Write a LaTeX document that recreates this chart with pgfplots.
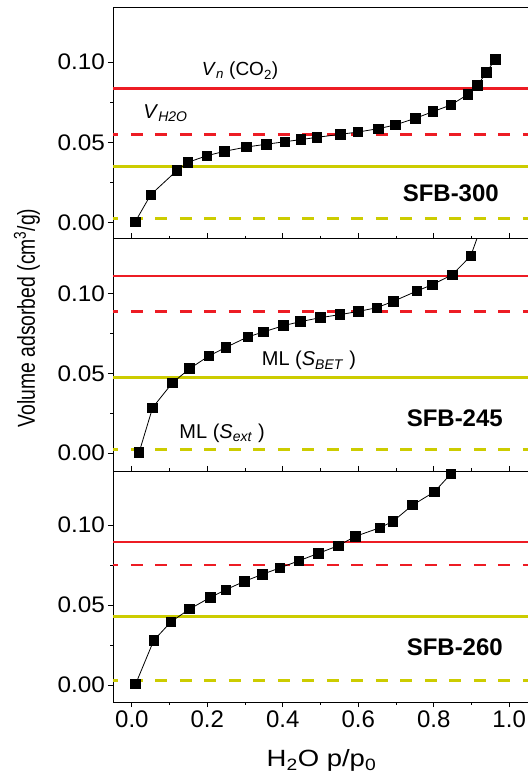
\documentclass[border=0pt]{standalone}
\usepackage{pgfplots}
\pgfplotsset{compat=1.18}
\usepackage{graphicx}
\usepackage{fontspec}
\setmainfont{Liberation Sans}
\definecolor{myred}{RGB}{237,28,36}
\definecolor{myyel}{RGB}{204,204,0}

\pgfplotsset{
 panel/.style={
  scale only axis, width=415.8pt, anchor=south west,
  xmin=-0.05, xmax=1.052,
  xtick={0,0.2,0.4,0.6,0.8,1.0}, minor x tick num=1,
  ytick={0,0.05,0.10}, minor y tick num=1,
  ytick pos=left, tick align=outside,
  major tick length=5pt, minor tick length=2.5pt,
  axis line style={line width=0.9pt},
  every tick/.style={black, line width=0.8pt},
  every minor tick/.style={black, line width=0.8pt},
  y tick label style={/pgf/number format/.cd, fixed, fixed zerofill, precision=2, /tikz/.cd, font=\fontsize{22.5}{26}\selectfont, inner sep=3pt},
  yticklabel={\scalebox{1.08}[1]{\pgfmathprintnumber{\tick}}},
  x tick label style={/pgf/number format/.cd, fixed, fixed zerofill, precision=1, /tikz/.cd, font=\fontsize{24}{28}\selectfont},
  /pgf/number format/assume math mode=true,
  clip=true,
 },
 hl/.style={line width=2.7pt, no marks},
 hld/.style={line width=2.7pt, no marks, dash pattern=on 12pt off 12.5pt, dash phase=6.7pt},
 dat/.style={black, line width=0.8pt, mark=square*, mark size=4.75pt, mark options={solid, fill=black}},
}
\tikzset{
 ann/.style={font=\fontsize{20}{24}\selectfont, inner sep=0pt},
 sfb/.style={font=\fontsize{24}{28}\selectfont\bfseries, inner sep=0pt, anchor=base east},
}

\begin{document}
\begin{tikzpicture}
\useasboundingbox (-113pt,-78pt) rectangle (415pt,702pt);

% Panel 1: SFB-300
\begin{axis}[panel, at={(0pt,463.7pt)}, height=231.3pt,
  ymin=-0.0097, ymax=0.1342, xtick=\empty]
\addplot[hl, myred] coordinates {(-0.05,0.0834) (1.052,0.0834)};
\addplot[hld, myred] coordinates {(-0.05,0.0548) (1.052,0.0548)};
\addplot[hl, myyel] coordinates {(-0.05,0.0349) (1.052,0.0349)};
\addplot[hld, myyel] coordinates {(-0.05,0.0027) (1.052,0.0027)};
\addplot[dat] coordinates {
(0.009,0.0006) (0.050,0.0174) (0.119,0.0324) (0.149,0.0376) (0.199,0.0417)
(0.245,0.0444) (0.304,0.0471) (0.356,0.0488) (0.406,0.0504) (0.448,0.0517)
(0.490,0.0531) (0.553,0.0550) (0.599,0.0564) (0.653,0.0585) (0.698,0.0608)
(0.752,0.0650) (0.798,0.0691) (0.845,0.0732) (0.890,0.0797) (0.916,0.0855)
(0.940,0.0936) (0.963,0.1017)};
\node[ann, font=\fontsize{19}{23}\selectfont, anchor=base west] at (axis cs:0.185,0.0913) {\textit{V}\textsubscript{\textit{n}} (CO\textsubscript{2})};
\node[ann, anchor=base west] at (axis cs:0.030,0.065) {\textit{V}\textsubscript{\textit{H2O}}};
\node[sfb] at (axis cs:0.973,0.0131) {SFB-300};
\end{axis}

% Panel 2: SFB-245
\begin{axis}[panel, at={(0pt,231pt)}, height=232.7pt,
  ymin=-0.0111, ymax=0.1344, xtick pos=right, xticklabels={}]
\addplot[hl, myred] coordinates {(-0.05,0.1108) (1.052,0.1108)};
\addplot[hld, myred] coordinates {(-0.05,0.0887) (1.052,0.0887)};
\addplot[hl, myyel] coordinates {(-0.05,0.0475) (1.052,0.0475)};
\addplot[hld, myyel] coordinates {(-0.05,0.0023) (1.052,0.0023)};
\addplot[dat] coordinates {
(0.019,0.0004) (0.055,0.0285) (0.107,0.0439) (0.153,0.0529) (0.204,0.0608)
(0.249,0.0662) (0.307,0.0727) (0.348,0.0758) (0.402,0.0798) (0.447,0.0823)
(0.500,0.0848) (0.552,0.0867) (0.601,0.0887) (0.649,0.0910) (0.693,0.0950)
(0.755,0.1014) (0.796,0.1054) (0.849,0.1116) (0.898,0.1233) (0.940,0.1510)};
\node[ann, anchor=base west] at (axis cs:0.344,0.0546) {ML (\textit{S}\textsubscript{\textit{BET}} )};
\node[ann, anchor=base west] at (axis cs:0.1256,0.0094) {ML (\textit{S}\textsubscript{\textit{ext}} )};
\node[sfb] at (axis cs:0.9836,0.0166) {SFB-245};
\end{axis}

% Panel 3: SFB-260
\begin{axis}[panel, at={(0pt,0pt)}, height=231pt,
  ymin=-0.0106, ymax=0.1338, xtick pos=both]
\addplot[hl, myred] coordinates {(-0.05,0.0894) (1.052,0.0894)};
\addplot[hld, myred] coordinates {(-0.05,0.0750) (1.052,0.0750)};
\addplot[hl, myyel] coordinates {(-0.05,0.0429) (1.052,0.0429)};
\addplot[hld, myyel] coordinates {(-0.05,0.0027) (1.052,0.0027)};
\addplot[dat] coordinates {
(0.010,0.0006) (0.058,0.0279) (0.104,0.0396) (0.153,0.0475) (0.208,0.0548)
(0.249,0.0596) (0.298,0.0648) (0.346,0.0692) (0.393,0.0733) (0.443,0.0777)
(0.494,0.0823) (0.547,0.0871) (0.592,0.0929) (0.657,0.0983) (0.692,0.1023)
(0.744,0.1125) (0.802,0.1208) (0.845,0.1319)};
\node[sfb] at (axis cs:0.9836,0.01875) {SFB-260};
\end{axis}

\node[rotate=90, anchor=base, font=\fontsize{24.5}{28}\selectfont, inner sep=0pt] at (-78pt,384pt) {\scalebox{0.79}[1]{Volume adsorbed (cm\textsuperscript{3}/g)}};
\node[anchor=base, font=\fontsize{23.5}{27}\selectfont, inner sep=0pt] at (208.5pt,-64.7pt) {\scalebox{1.17}[1]{H\textsubscript{2}O p/p\textsubscript{0}}};
\end{tikzpicture}
\end{document}
